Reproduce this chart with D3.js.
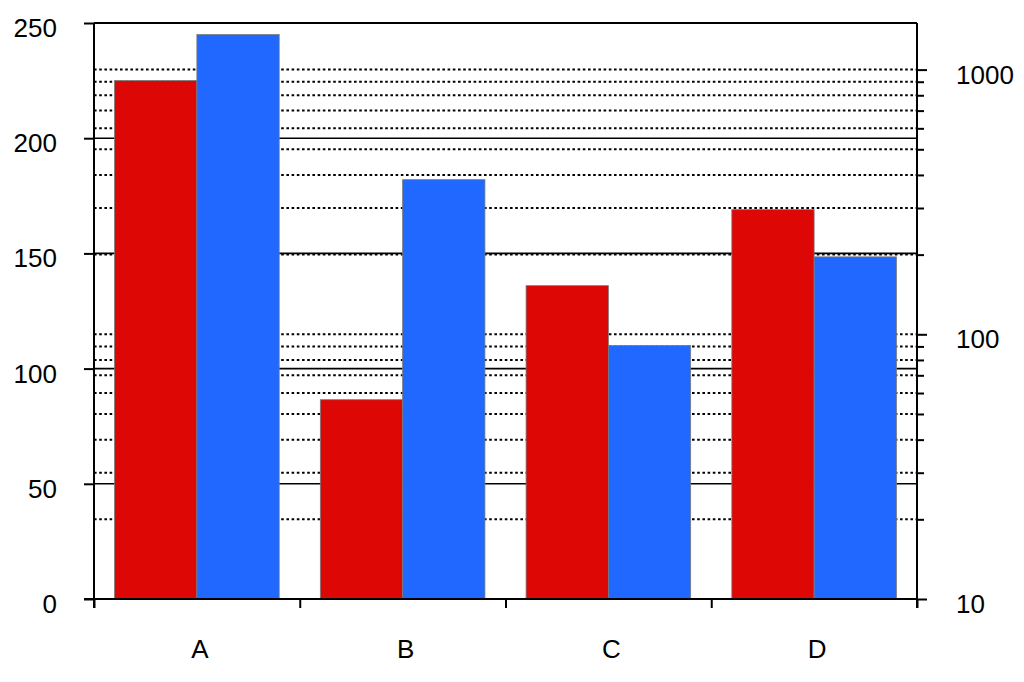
<!DOCTYPE html>
<html>
<head>
<meta charset="utf-8">
<script src="https://cdn.jsdelivr.net/npm/d3@7/dist/d3.min.js"></script>
<style>
  html, body { margin: 0; padding: 0; background: #fff; }
  svg { display: block; font-family: "Liberation Sans", Arial, sans-serif; }
</style>
</head>
<body>
<svg id="chart" width="1024" height="682"></svg>
<script>
const categories = ["A", "B", "C", "D"];
const seriesNames = ["red", "blue"];
const redValues = [225, 86.5, 136, 169];
const blueValues = [245, 182, 110, 148.5];
const leftTicks = [0, 50, 100, 150, 200, 250];
const rightMajorTicks = [10, 100, 1000];
const rightMinorTicks = [20, 30, 40, 50, 60, 70, 80, 90, 200, 300, 400, 500, 600, 700, 800, 900];
const colors = { red: "#dd0806", blue: "#2068ff" };

const svg = d3.select("#chart");
const L = 94, R = 917, T = 23, B = 599;
const FS = 26;

const x = d3.scaleBand().domain(categories).range([L, R]).padding(0);
const xSub = d3.scaleBand().domain(seriesNames).range([0, x.bandwidth()]).paddingInner(0).paddingOuter(0.25);
const yL = d3.scaleLinear().domain([0, 250]).range([B, T]);
const yR = d3.scaleLog().domain([10, 1500]).range([B, T]);
const xEdge = d3.scaleLinear().domain([0, categories.length]).range([L, R]);

// dotted gridlines (log minor + major)
const dotted = rightMinorTicks.concat(rightMajorTicks.filter(v => v > 10));
svg.append("g").selectAll("line").data(dotted).join("line")
  .attr("x1", L).attr("x2", R)
  .attr("y1", d => yR(d)).attr("y2", d => yR(d))
  .attr("stroke", "#000").attr("stroke-width", 2)
  .attr("stroke-dasharray", "2.6,2.6");

// solid gridlines (left ticks)
svg.append("g").selectAll("line").data(leftTicks.filter(v => v > 0)).join("line")
  .attr("x1", L).attr("x2", R)
  .attr("y1", d => yL(d)).attr("y2", d => yL(d))
  .attr("stroke", "#000").attr("stroke-width", d => d === 250 ? 2 : 1.6);

// bars
const rows = categories.map((c, i) => ({ cat: c, red: redValues[i], blue: blueValues[i] }));
const groups = svg.append("g").selectAll("g").data(rows).join("g")
  .attr("transform", d => `translate(${x(d.cat)},0)`);
groups.selectAll("rect").data(d => seriesNames.map(s => ({ s, v: d[s] }))).join("rect")
  .attr("x", d => xSub(d.s))
  .attr("width", xSub.bandwidth())
  .attr("y", d => yL(d.v))
  .attr("height", d => yL(0) - yL(d.v))
  .attr("fill", d => colors[d.s])
  .attr("stroke", "#7a7a7a").attr("stroke-width", 0.8);

// left axis
const gL = svg.append("g").attr("transform", `translate(${L},0)`)
  .call(d3.axisLeft(yL).tickValues(leftTicks).tickSize(10).tickSizeOuter(0).tickPadding(27));
gL.select(".domain").remove();
gL.selectAll(".tick line").attr("stroke-width", 2);
gL.selectAll(".tick text").attr("font-size", FS).attr("fill", "#000").attr("dy", "0.52em")
  .attr("font-family", "Liberation Sans, Arial, sans-serif");
gL.append("line").attr("x1", 0).attr("x2", 0).attr("y1", T).attr("y2", B + 9)
  .attr("stroke", "#000").attr("stroke-width", 2);

// right axis
const gR = svg.append("g").attr("transform", `translate(${R},0)`)
  .call(d3.axisRight(yR).tickValues(rightMajorTicks).tickFormat(d3.format("d")).tickSize(10).tickSizeOuter(0).tickPadding(29));
gR.select(".domain").remove();
gR.selectAll(".tick line").attr("stroke-width", 2);
gR.selectAll(".tick text").attr("font-size", FS).attr("fill", "#000").attr("dy", "0.52em")
  .attr("font-family", "Liberation Sans, Arial, sans-serif");
const gRm = svg.append("g").attr("transform", `translate(${R},0)`)
  .call(d3.axisRight(yR).tickValues(rightMinorTicks).tickFormat("").tickSize(7).tickSizeOuter(0));
gRm.select(".domain").remove();
gRm.selectAll(".tick line").attr("stroke-width", 2);
svg.append("line").attr("x1", R).attr("x2", R).attr("y1", T).attr("y2", B + 9)
  .attr("stroke", "#000").attr("stroke-width", 2);

// bottom axis: boundary ticks
const gB = svg.append("g").attr("transform", `translate(0,${B})`)
  .call(d3.axisBottom(xEdge).tickValues(d3.range(categories.length + 1)).tickFormat("").tickSize(9).tickSizeOuter(0));
gB.select(".domain").remove();
gB.selectAll(".tick line").attr("stroke-width", 2);
svg.append("line").attr("x1", L - 10).attr("x2", R).attr("y1", B).attr("y2", B)
  .attr("stroke", "#000").attr("stroke-width", 2);

// category labels
const gC = svg.append("g").attr("transform", `translate(0,${B})`)
  .call(d3.axisBottom(x).tickSize(0).tickPadding(41));
gC.select(".domain").remove();
gC.selectAll(".tick text").attr("font-size", FS).attr("fill", "#000").attr("dx", 3)
  .attr("font-family", "Liberation Sans, Arial, sans-serif");
</script>
</body>
</html>
